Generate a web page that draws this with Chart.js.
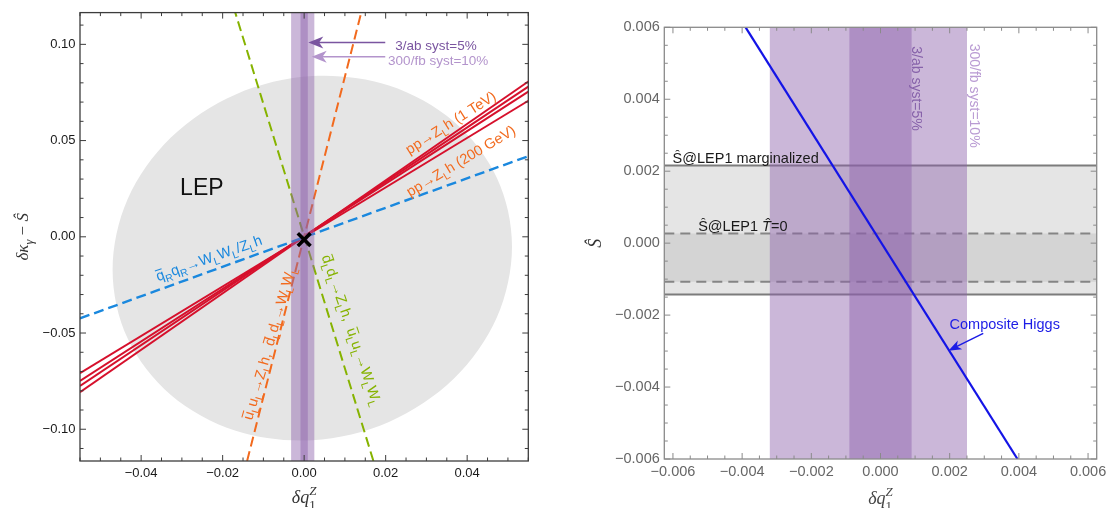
<!DOCTYPE html>
<html><head><meta charset="utf-8">
<script src="https://cdn.jsdelivr.net/npm/chart.js@4.4.1/dist/chart.umd.min.js"></script>
<style>
html,body{margin:0;padding:0;background:#fff;}
#wrap{position:relative;width:1107px;height:508px;overflow:hidden;background:#fff;}
canvas{position:absolute;top:0;}
#c1{left:0;width:560px;height:508px;}
#c2{left:560px;width:547px;height:508px;}
</style></head><body>
<div id="wrap"><canvas id="c1" width="560" height="508"></canvas><canvas id="c2" width="547" height="508"></canvas></div>
<script>
// ================= DATA: LEFT PANEL =================
const leftXRange = [-0.055, 0.055];
const leftYRange = [-0.1165, 0.1165];
const leftXTicks = [-0.04, -0.02, 0.00, 0.02, 0.04];
const leftYTicks = [-0.10, -0.05, 0.00, 0.05, 0.10];
const leftXMinorStep = 0.005;
const leftYMinorStep = 0.01;

// LEP allowed region (boundary points)
const lepX = [0.0510, 0.0473, 0.0367, 0.0208, 0.0020, -0.0168, -0.0327, -0.0433, -0.0470, -0.0433, -0.0327, -0.0168, 0.0020, 0.0208, 0.0367, 0.0473];
const lepY = [-0.0050, 0.0306, 0.0599, 0.0786, 0.0835, 0.0740, 0.0516, 0.0196, -0.0172, -0.0529, -0.0822, -0.1008, -0.1057, -0.0962, -0.0738, -0.0418];

// vertical bands in dq1Z
const band300fbX = [-0.0032, 0.0025];
const band3abX = [-0.0009, 0.0009];

// pp -> Z_L h lines (4 red lines), endpoints at the frame edges
const ppZhX = [-0.055, 0.055];
const ppZhLeftY = [-0.0808, -0.0775, -0.0749, -0.0709];
const ppZhRightY = [0.0807, 0.0780, 0.0754, 0.0707];

// dashed directions
const qRqRX = [-0.055, 0.055];
const qRqRY = [-0.0424, 0.0419];
const uLuLZhX = [-0.0140, 0.0140];
const uLuLZhY = [-0.1165, 0.1165];
const dLdLZhX = [0.0170, -0.0169];
const dLdLZhY = [-0.1165, 0.1165];
const smPoint = [0.0, -0.0015];

// ================= DATA: RIGHT PANEL =================
const rightXRange = [-0.00625, 0.00625];
const rightYRange = [-0.006, 0.006];
const rightTicks = [-0.006, -0.004, -0.002, 0.000, 0.002, 0.004, 0.006];
const rightMinorStep = 0.0005;
const sHatMarginalizedY = [-0.00143, 0.00216];
const sHatT0Y = [-0.00107, 0.00027];
const compositeX = [-0.0039, 0.00396];
const compositeY = [0.006, -0.006];

// ================= HELPERS =================
const SANS = "'Liberation Sans', Arial, Helvetica, sans-serif";
const SERIF = "'Liberation Serif', 'Times New Roman', serif";
Chart.defaults.font.family = SANS;

const pts = (xs, ys) => xs.map((x, i) => ({x, y: ys[i]}));
function lineDS(data, color, w, dash) {
  return {data, showLine: true, borderColor: color, borderWidth: w, borderDash: dash || [],
    pointRadius: 0, fill: false, tension: 0, borderCapStyle: 'butt'};
}
function rectDS(xr, yr, color) {
  return {data: [{x: xr[0], y: yr[0]}, {x: xr[0], y: yr[1]}, {x: xr[1], y: yr[1]}, {x: xr[1], y: yr[0]}, {x: xr[0], y: yr[0]}],
    showLine: true, borderWidth: 0, borderColor: 'rgba(0,0,0,0)', backgroundColor: color,
    fill: 'shape', pointRadius: 0, tension: 0};
}
function fmt(v, d) { const s = Math.abs(v).toFixed(d); return (v < -1e-12 ? '\u2212' : '') + s; }
function makeScale(range, ticks, dec, color, size, pad, fitProp, fitVal) {
  return {
    type: 'linear', min: range[0], max: range[1],
    grid: {display: false, drawTicks: false}, border: {display: false},
    ticks: {autoSkip: false, maxRotation: 0, minRotation: 0, color, font: {size}, padding: pad,
      includeBounds: false, callback: v => fmt(v, dec)},
    afterBuildTicks: s => { s.ticks = ticks.map(v => ({value: v})); },
    afterFit: s => { s[fitProp] = fitVal; s.paddingLeft = 0; s.paddingRight = 0; s.paddingTop = 0; s.paddingBottom = 0; }
  };
}
function minorVals(range, step, majors) {
  const out = [];
  const n0 = Math.ceil(range[0] / step - 1e-9), n1 = Math.floor(range[1] / step + 1e-9);
  for (let n = n0; n <= n1; n++) {
    const v = n * step;
    if (!majors.some(m => Math.abs(m - v) < step * 0.01)) out.push(v);
  }
  return out;
}
function drawFrame(chart, c) {
  const {ctx, chartArea: a, scales: {x, y}} = chart;
  ctx.save();
  ctx.strokeStyle = c.color; ctx.lineWidth = 1;
  ctx.beginPath();
  const vx = (v, len) => { const p = x.getPixelForValue(v); ctx.moveTo(p, a.bottom); ctx.lineTo(p, a.bottom - len); ctx.moveTo(p, a.top); ctx.lineTo(p, a.top + len); };
  const vy = (v, len) => { const p = y.getPixelForValue(v); ctx.moveTo(a.left, p); ctx.lineTo(a.left + len, p); ctx.moveTo(a.right, p); ctx.lineTo(a.right - len, p); };
  c.xMajor.forEach(v => vx(v, 6)); c.xMinor.forEach(v => vx(v, 3.5));
  c.yMajor.forEach(v => vy(v, 6)); c.yMinor.forEach(v => vy(v, 3.5));
  ctx.stroke();
  ctx.lineWidth = c.fw;
  ctx.strokeRect(a.left, a.top, a.right - a.left, a.bottom - a.top);
  ctx.restore();
}
function parseRich(str) {
  const parts = []; let i = 0;
  while (i < str.length) {
    const c = str[i];
    if (c === '~') { parts.push({t: str[i + 1], bar: true}); i += 2; }
    else if (c === '_') { parts.push({t: str[i + 1], s: -1}); i += 2; }
    else { let j = i; while (j < str.length && str[j] !== '~' && str[j] !== '_') j++; parts.push({t: str.slice(i, j)}); i = j; }
  }
  return parts;
}
function partFont(p, size, fam) {
  const s = p.s ? size * 0.72 : size;
  return `${p.i ? 'italic ' : ''}${s}px ${p.fam || fam}`;
}
function drawRich(ctx, parts, x, y, angle, size, fam, color, align) {
  ctx.save();
  ctx.translate(x, y); ctx.rotate(angle * Math.PI / 180);
  ctx.fillStyle = color; ctx.strokeStyle = color;
  ctx.textBaseline = 'alphabetic'; ctx.textAlign = 'left';
  let W = 0;
  for (const p of parts) { ctx.font = partFont(p, size, fam); p._w = ctx.measureText(p.t).width; if (!p.k) W += p._w; }
  let cx = align === 'left' ? 0 : -W / 2;
  const base = size * 0.36;
  for (const p of parts) {
    ctx.font = partFont(p, size, fam);
    const dy = p.s === -1 ? size * 0.28 : (p.s === 1 ? -size * 0.45 : 0);
    ctx.fillText(p.t, cx, base + dy);
    if (p.bar) {
      ctx.lineWidth = Math.max(1, size * 0.07);
      ctx.beginPath(); ctx.moveTo(cx + 0.5, base - size * 0.74); ctx.lineTo(cx + p._w - 0.5, base - size * 0.74); ctx.stroke();
    }
    if (!p.k) cx += p._w;
  }
  ctx.restore();
}
function arrow(ctx, x0, y0, x1, y1, color, lw, hl, hw) {
  const ang = Math.atan2(y1 - y0, x1 - x0), c = Math.cos(ang), s = Math.sin(ang);
  ctx.save(); ctx.strokeStyle = color; ctx.fillStyle = color; ctx.lineWidth = lw;
  ctx.beginPath(); ctx.moveTo(x0, y0); ctx.lineTo(x1 - hl * 0.6 * c, y1 - hl * 0.6 * s); ctx.stroke();
  const bx = x1 - hl * c, by = y1 - hl * s;
  ctx.beginPath(); ctx.moveTo(x1, y1);
  ctx.lineTo(bx - hw * s, by + hw * c);
  ctx.lineTo(x1 - hl * 0.72 * c, y1 - hl * 0.72 * s);
  ctx.lineTo(bx + hw * s, by - hw * c);
  ctx.closePath(); ctx.fill();
  ctx.restore();
}
// closed smooth curve (Catmull-Rom) through data points, mapped through the chart scales
function fillClosedSpline(chart, xs, ys, color) {
  const {ctx, chartArea: a, scales: {x, y}} = chart;
  const P = xs.map((v, i) => [x.getPixelForValue(v), y.getPixelForValue(ys[i])]);
  const n = P.length;
  ctx.save();
  ctx.beginPath(); ctx.rect(a.left, a.top, a.right - a.left, a.bottom - a.top); ctx.clip();
  ctx.beginPath();
  ctx.moveTo(P[0][0], P[0][1]);
  for (let i = 0; i < n; i++) {
    const p0 = P[(i - 1 + n) % n], p1 = P[i], p2 = P[(i + 1) % n], p3 = P[(i + 2) % n];
    ctx.bezierCurveTo(p1[0] + (p2[0] - p0[0]) / 6, p1[1] + (p2[1] - p0[1]) / 6,
                      p2[0] - (p3[0] - p1[0]) / 6, p2[1] - (p3[1] - p1[1]) / 6, p2[0], p2[1]);
  }
  ctx.closePath();
  ctx.fillStyle = color; ctx.fill();
  ctx.restore();
}

// ================= LEFT CHART =================
const BLUE = '#1a88de', ORANGE = '#f26a1e', GREEN = '#86b300', RED = '#d6102c';
const leftDatasets = [
  {data: [{x: smPoint[0], y: smPoint[1]}], pointStyle: 'crossRot', pointRadius: 9, borderColor: '#000', borderWidth: 3.6, showLine: false},
  rectDS(band3abX, leftYRange, 'rgba(140,95,170,0.45)'),
  rectDS(band300fbX, leftYRange, 'rgba(140,95,170,0.45)'),
  lineDS(pts(dLdLZhX, dLdLZhY), GREEN, 2, [10, 5]),
  lineDS(pts(uLuLZhX, uLuLZhY), ORANGE, 2, [10, 5]),
  lineDS(pts(qRqRX, qRqRY), BLUE, 2.4, [10, 5]),
  ...ppZhLeftY.map((yl, i) => lineDS(pts(ppZhX, [yl, ppZhRightY[i]]), RED, 2))
];

const leftLabels = [
  {t: '~q_Rq_R\u2192W_LW_L/Z_Lh', x: -0.0234, y: -0.0109, a: -19.5, c: BLUE},
  {t: 'pp\u2192Z_Lh (1 TeV)', x: 0.0359, y: 0.0595, a: -32.5, c: ORANGE},
  {t: 'pp\u2192Z_Lh (200 GeV)', x: 0.0384, y: 0.0396, a: -31, c: ORANGE},
  {t: '~u_Lu_L\u2192Z_Lh,  ~d_Ld_L\u2192W_LW_L', x: -0.00866, y: -0.0553, a: -74, c: ORANGE},
  {t: '~d_Ld_L\u2192Z_Lh,  ~u_Lu_L\u2192W_LW_L', x: 0.01176, y: -0.0484, a: 71, c: GREEN}
];

const leftDecor = {
  id: 'leftDecor',
  beforeDatasetsDraw(chart) {
    fillClosedSpline(chart, lepX, lepY, '#e5e5e5');
  },
  afterDatasetsDraw(chart) {
    const {ctx, scales: {x, y}} = chart;
    const X = v => x.getPixelForValue(v), Y = v => y.getPixelForValue(v);
    ctx.save();
    ctx.font = `23px ${SANS}`; ctx.fillStyle = '#111'; ctx.textAlign = 'center'; ctx.textBaseline = 'middle';
    ctx.fillText('LEP', X(-0.0251), Y(0.0250));
    ctx.restore();
    for (const L of leftLabels) drawRich(ctx, parseRich(L.t), X(L.x), Y(L.y), L.a, 14.5, SANS, L.c, 'center');
    arrow(ctx, X(0.0199), Y(0.1009), X(0.00102), Y(0.1009), '#7a55a0', 1.5, 15, 6);
    arrow(ctx, X(0.0199), Y(0.0935), X(0.00186), Y(0.0935), '#b394cc', 1.5, 15, 6);
    drawRich(ctx, [{t: '3/ab syst=5%'}], X(0.02235), Y(0.0997), 0, 13.5, SANS, '#7a55a0', 'left');
    drawRich(ctx, [{t: '300/fb syst=10%'}], X(0.0206), Y(0.0920), 0, 13.5, SANS, '#b394cc', 'left');
  },
  afterDraw(chart) {
    drawFrame(chart, {color: '#3c3c3c', fw: 1.3, xMajor: leftXTicks, yMajor: leftYTicks,
      xMinor: minorVals(leftXRange, leftXMinorStep, leftXTicks), yMinor: minorVals(leftYRange, leftYMinorStep, leftYTicks)});
    const {ctx, chartArea: a} = chart;
    drawRich(ctx, [{t: '\u03b4', i: true}, {t: 'q', i: true}, {t: '1', s: -1, k: true}, {t: 'Z', s: 1, i: true}],
      (a.left + a.right) / 2, 497, 0, 18, SERIF, '#333', 'center');
    drawRich(ctx, [{t: '\u03b4', i: true}, {t: '\u03ba', i: true}, {t: '\u03b3', s: -1, i: true}, {t: ' \u2212 '}, {t: '\u015c', i: true}],
      22, (a.top + a.bottom) / 2, -90, 17, SERIF, '#333', 'center');
  }
};

new Chart(document.getElementById('c1'), {
  type: 'scatter',
  data: {datasets: leftDatasets},
  options: {
    responsive: false, animation: false, devicePixelRatio: 1, events: [],
    layout: {padding: {left: 0, right: 31.7, top: 11, bottom: 0}},
    plugins: {legend: {display: false}, tooltip: {enabled: false}},
    scales: {
      x: makeScale(leftXRange, leftXTicks, 2, '#1a1a1a', 13, 5, 'height', 47),
      y: makeScale(leftYRange, leftYTicks, 2, '#1a1a1a', 13, 4.5, 'width', 80)
    }
  },
  plugins: [leftDecor]
});

// ================= RIGHT CHART =================
const rightDatasets = [
  lineDS(pts(compositeX, compositeY), '#1414e6', 2.2),
  rectDS(band3abX, rightYRange, 'rgba(140,95,170,0.45)'),
  rectDS(band300fbX, rightYRange, 'rgba(140,95,170,0.45)'),
  lineDS(pts(rightXRange, [sHatT0Y[0], sHatT0Y[0]]), '#858585', 2, [10, 6]),
  lineDS(pts(rightXRange, [sHatT0Y[1], sHatT0Y[1]]), '#858585', 2, [10, 6]),
  lineDS(pts(rightXRange, [sHatMarginalizedY[0], sHatMarginalizedY[0]]), '#7c7c7c', 2),
  lineDS(pts(rightXRange, [sHatMarginalizedY[1], sHatMarginalizedY[1]]), '#7c7c7c', 2),
  rectDS(rightXRange, sHatT0Y, '#d4d4d4'),
  rectDS(rightXRange, sHatMarginalizedY, '#e5e5e5')
];

const rightDecor = {
  id: 'rightDecor',
  afterDatasetsDraw(chart) {
    const {ctx, scales: {x, y}} = chart;
    const X = v => x.getPixelForValue(v), Y = v => y.getPixelForValue(v);
    drawRich(ctx, [{t: '\u015c@LEP1 marginalized'}], X(-0.00601), Y(0.002375), 0, 14.5, SANS, '#1a1a1a', 'left');
    drawRich(ctx, [{t: '\u015c@LEP1 '}, {t: 'T\u0302', i: true}, {t: '=0'}], X(-0.00527), Y(0.000477), 0, 14.5, SANS, '#1a1a1a', 'left');
    drawRich(ctx, [{t: '3/ab syst=5%'}], X(0.00107), Y(0.0043), 90, 14, SANS, '#8762aa', 'center');
    drawRich(ctx, [{t: '300/fb syst=10%'}], X(0.00273), Y(0.0041), 90, 14, SANS, '#b99bd3', 'center');
    drawRich(ctx, [{t: 'Composite Higgs'}], X(0.001995), Y(-0.002247), 0, 14.5, SANS, '#1c1ce6', 'left');
    arrow(ctx, X(0.00297), Y(-0.002506), X(0.001963), Y(-0.002989), '#1c1ce6', 1.5, 13, 5);
  },
  afterDraw(chart) {
    drawFrame(chart, {color: '#8a8a8a', fw: 1.3, xMajor: rightTicks, yMajor: rightTicks,
      xMinor: minorVals(rightXRange, rightMinorStep, rightTicks), yMinor: minorVals(rightYRange, rightMinorStep, rightTicks)});
    const {ctx, chartArea: a} = chart;
    drawRich(ctx, [{t: '\u03b4', i: true}, {t: 'q', i: true}, {t: '1', s: -1, k: true}, {t: 'Z', s: 1, i: true}],
      (a.left + a.right) / 2, 498, 0, 18, SERIF, '#444', 'center');
    drawRich(ctx, [{t: '\u015c', i: true}], 35, (a.top + a.bottom) / 2, -90, 18, SERIF, '#333', 'center');
  }
};

new Chart(document.getElementById('c2'), {
  type: 'scatter',
  data: {datasets: rightDatasets},
  options: {
    responsive: false, animation: false, devicePixelRatio: 1, events: [],
    layout: {padding: {left: 0, right: 10.3, top: 27.3, bottom: 0}},
    plugins: {legend: {display: false}, tooltip: {enabled: false}},
    scales: {
      x: makeScale(rightXRange, rightTicks, 3, '#666', 14.5, 4, 'height', 49),
      y: makeScale(rightYRange, rightTicks, 3, '#666', 14.5, 4.5, 'width', 104.3)
    }
  },
  plugins: [rightDecor]
});
</script>
</body></html>
